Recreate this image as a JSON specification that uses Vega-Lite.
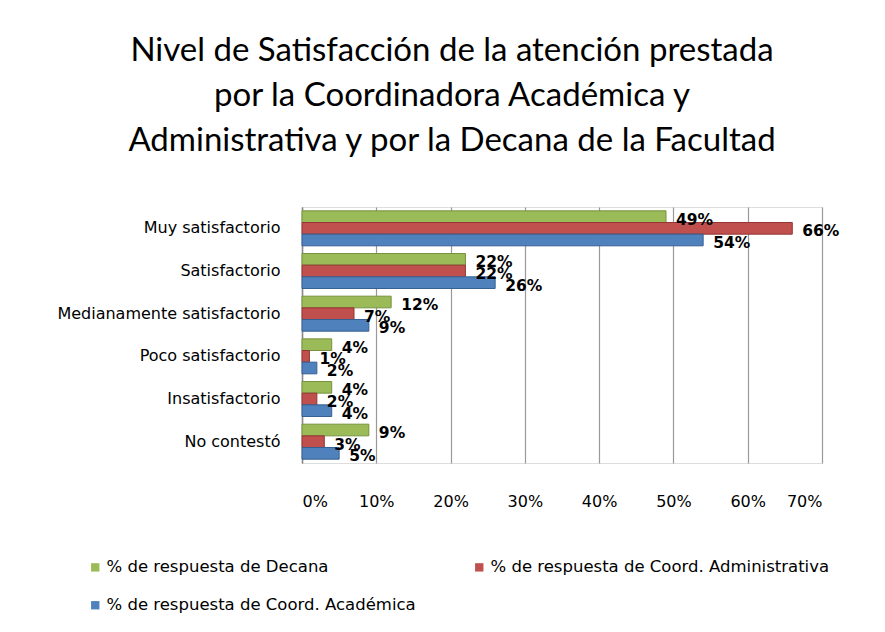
{
  "$schema": "https://vega.github.io/schema/vega-lite/v6.json",
  "width": 520,
  "height": 256,
  "autosize": {"type": "none"},
  "padding": {"left": 302, "top": 207, "right": 63, "bottom": 169},
  "background": "white",
  "title": {
    "text": ["Nivel de Satisfacción de la atención prestada", "por la Coordinadora Académica y", "Administrativa y por la Decana de la Facultad"],
    "font": "Lato",
    "fontSize": 33,
    "fontWeight": "normal",
    "color": "#000000",
    "lineHeight": 45,
    "anchor": "middle",
    "frame": "group",
    "dx": -110,
    "offset": 49
  },
  "data": {
    "values": [
      {"cat": "Muy satisfactorio", "serie": "% de respuesta de Decana", "v": 0.49},
      {"cat": "Muy satisfactorio", "serie": "% de respuesta de Coord. Administrativa", "v": 0.66},
      {"cat": "Muy satisfactorio", "serie": "% de respuesta de Coord. Académica", "v": 0.54},
      {"cat": "Satisfactorio", "serie": "% de respuesta de Decana", "v": 0.22},
      {"cat": "Satisfactorio", "serie": "% de respuesta de Coord. Administrativa", "v": 0.22},
      {"cat": "Satisfactorio", "serie": "% de respuesta de Coord. Académica", "v": 0.26},
      {"cat": "Medianamente satisfactorio", "serie": "% de respuesta de Decana", "v": 0.12},
      {"cat": "Medianamente satisfactorio", "serie": "% de respuesta de Coord. Administrativa", "v": 0.07},
      {"cat": "Medianamente satisfactorio", "serie": "% de respuesta de Coord. Académica", "v": 0.09},
      {"cat": "Poco satisfactorio", "serie": "% de respuesta de Decana", "v": 0.04},
      {"cat": "Poco satisfactorio", "serie": "% de respuesta de Coord. Administrativa", "v": 0.01},
      {"cat": "Poco satisfactorio", "serie": "% de respuesta de Coord. Académica", "v": 0.02},
      {"cat": "Insatisfactorio", "serie": "% de respuesta de Decana", "v": 0.04},
      {"cat": "Insatisfactorio", "serie": "% de respuesta de Coord. Administrativa", "v": 0.02},
      {"cat": "Insatisfactorio", "serie": "% de respuesta de Coord. Académica", "v": 0.04},
      {"cat": "No contestó", "serie": "% de respuesta de Decana", "v": 0.09},
      {"cat": "No contestó", "serie": "% de respuesta de Coord. Administrativa", "v": 0.03},
      {"cat": "No contestó", "serie": "% de respuesta de Coord. Académica", "v": 0.05}
    ]
  },
  "encoding": {
    "y": {
      "field": "cat",
      "type": "nominal",
      "sort": ["Muy satisfactorio", "Satisfactorio", "Medianamente satisfactorio", "Poco satisfactorio", "Insatisfactorio", "No contestó"],
      "scale": {"paddingInner": 0.18, "paddingOuter": 0.09},
      "axis": {
        "title": null,
        "labelFont": "DejaVu Sans",
        "labelFontSize": 16,
        "labelColor": "#000000",
        "labelPadding": 22,
        "labelLimit": 300,
        "ticks": false,
        "domain": true,
        "domainColor": "#888888",
        "domainWidth": 1.5
      }
    },
    "yOffset": {
      "field": "serie",
      "type": "nominal",
      "sort": ["% de respuesta de Decana", "% de respuesta de Coord. Administrativa", "% de respuesta de Coord. Académica"]
    },
    "x": {
      "field": "v",
      "type": "quantitative",
      "scale": {"domain": [0, 0.7]},
      "axis": {
        "title": null,
        "values": [0, 0.1, 0.2, 0.3, 0.4, 0.5, 0.6, 0.7],
        "format": ".0%",
        "labelFont": "DejaVu Sans",
        "labelFontSize": 16,
        "labelColor": "#000000",
        "labelPadding": 30,
        "ticks": false,
        "domain": false,
        "grid": true,
        "gridColor": "#999999",
        "gridWidth": 1.2
      }
    }
  },
  "layer": [
    {
      "mark": {"type": "bar", "strokeWidth": 1},
      "encoding": {
        "color": {
          "field": "serie",
          "type": "nominal",
          "scale": {
            "domain": ["% de respuesta de Decana", "% de respuesta de Coord. Académica", "% de respuesta de Coord. Administrativa"],
            "range": ["#9BBB59", "#4F81BD", "#C0504D"]
          },
          "legend": {
            "title": null,
            "orient": "none",
            "legendX": -215,
            "legendY": 352,
            "columns": 2,
            "columnPadding": 55,
            "rowPadding": 21,
            "symbolType": "square",
            "symbolSize": 70,
            "symbolStrokeWidth": 0,
            "labelFont": "DejaVu Sans",
            "labelFontSize": 16.5,
            "labelColor": "#000000",
            "labelOffset": 3,
            "labelLimit": 400
          }
        },
        "stroke": {
          "field": "serie",
          "type": "nominal",
          "scale": {
            "domain": ["% de respuesta de Decana", "% de respuesta de Coord. Académica", "% de respuesta de Coord. Administrativa"],
            "range": ["#76923C", "#365F91", "#943634"]
          },
          "legend": null
        }
      }
    },
    {
      "mark": {"type": "text", "align": "left", "baseline": "middle", "dx": 10, "dy": 3, "font": "DejaVu Sans", "fontSize": 15.5, "fontWeight": "bold", "color": "#000000"},
      "encoding": {
        "text": {"field": "v", "type": "quantitative", "format": ".0%"},
        "detail": {"field": "serie"}
      }
    }
  ]
}
